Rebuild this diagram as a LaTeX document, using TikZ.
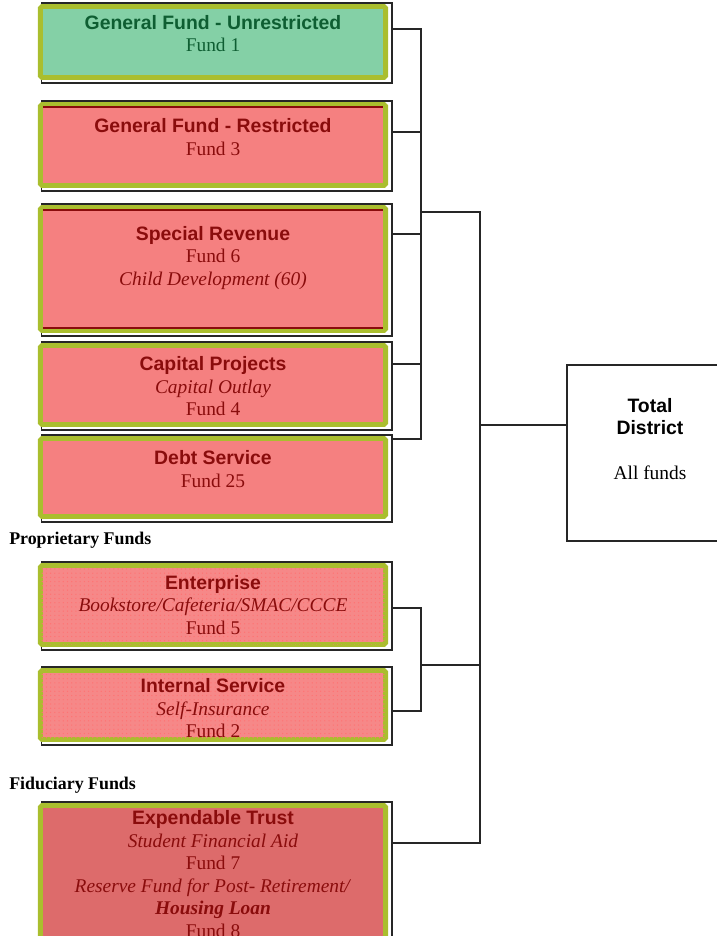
\documentclass[tikz,border=0pt]{standalone}
\usepackage{fontspec}
\setmainfont{Liberation Serif}
\newfontfamily\hsans{Liberation Sans}
\usetikzlibrary{backgrounds,patterns}
\definecolor{olivebd}{HTML}{AABE2E}
\definecolor{greenfill}{HTML}{84D0A6}
\definecolor{greentxt}{HTML}{0E5E32}
\definecolor{redfill}{HTML}{F58080}
\definecolor{redfilltwo}{HTML}{F68888}
\definecolor{trustfill}{HTML}{DD6B6B}
\definecolor{redtxt}{HTML}{8A0C0C}
\newcommand{\fhead}[1]{{\hsans\bfseries #1}}
\tikzstyle{fundbox}=[rectangle,draw=olivebd,line width=3.5pt,rounded corners=1.2pt,fill=redfill,minimum width=8.625cm,outer xsep=4.6pt,outer ysep=0pt,inner sep=0pt]
\tikzstyle{dotted box}=[fill=redfilltwo,postaction={pattern=dots,pattern color=red!55!white}]
\tikzstyle{fundtext}=[align=center,text=redtxt,inner sep=0pt,font=\fontsize{13.8}{16}\selectfont]
\tikzstyle{frame}=[draw=black!85,line width=0.8pt]
\tikzstyle{conn}=[draw=black!85,line width=0.85pt]
\tikzstyle{seclabel}=[anchor=west,inner sep=0pt,font=\fontsize{12.7}{15}\selectfont\bfseries]

\begin{document}
\begin{tikzpicture}[x=0.025cm,y=0.025cm]
    \useasboundingbox (0,0) rectangle (717,-936);
    \clip (0,0) rectangle (717,-936);

    % Governmental funds
    \node[fundbox,fill=greenfill,minimum height=1.775cm] (gfu) at (213,-42) {};
    \node[fundbox,minimum height=2.025cm] (gfr) at (213,-145) {};
    \node[fundbox,minimum height=3.075cm] (spr) at (213,-269) {};
    \node[fundbox,minimum height=1.975cm] (cap) at (213,-385) {};
    \node[fundbox,minimum height=1.95cm] (dbt) at (213,-477.5) {};

    % Proprietary and fiduciary funds
    \node[fundbox,dotted box,minimum height=1.975cm] (ent) at (213,-605) {};
    \node[fundbox,dotted box,minimum height=1.725cm] (int) at (213,-705) {};
    \node[fundbox,fill=trustfill,minimum height=3.625cm] (exp) at (213,-878) {};

    % black frames behind the boxes
    \begin{scope}[on background layer]
    \foreach \name in {gfu,gfr,spr,cap,dbt,ent,int,exp}
        \draw[frame] ([shift={(7.5,3.5)}]\name.north west) rectangle ([shift={(0,-5.5)}]\name.south east);
    \end{scope}

    % thin dark red rules inside two boxes
    \draw[redtxt,line width=0.8pt] ([shift={(9,-2.5)}]gfr.north west) -- ([shift={(-9,-2.5)}]gfr.north east);
    \draw[redtxt,line width=0.8pt] ([shift={(9,-2.5)}]spr.north west) -- ([shift={(-9,-2.5)}]spr.north east);
    \draw[redtxt,line width=0.8pt] ([shift={(9,2.5)}]spr.south west) -- ([shift={(-9,2.5)}]spr.south east);

    % box texts
    \node[fundtext,text=greentxt] (gfut) at (213,-33.5) {\fhead{General Fund - Unrestricted}\\Fund 1};
    \node[fundtext] (gfrt) at (213,-137) {\fhead{General Fund - Restricted}\\Fund 3};
    \node[fundtext] (sprt) at (213,-258) {\fhead{Special Revenue}\\Fund 6\\\textit{Child Development (60)}};
    \node[fundtext] (capt) at (213,-386.5) {\fhead{Capital Projects}\\\textit{Capital Outlay}\\Fund 4};
    \node[fundtext] (dbtt) at (213,-469) {\fhead{Debt Service}\\Fund 25};
    \node[fundtext] (entt) at (213,-605) {\fhead{Enterprise}\\\textit{Bookstore/Cafeteria/SMAC/CCCE}\\Fund 5};
    \node[fundtext] (intt) at (213,-708.5) {\fhead{Internal Service}\\\textit{Self-Insurance}\\Fund 2};
    \node[fundtext] (expt) at (213,-874) {\fhead{Expendable Trust}\\\textit{Student Financial Aid}\\Fund 7\\\textit{Reserve Fund for Post- Retirement/}\\\textbf{\textit{Housing Loan}}\\Fund 8};

    \node[seclabel] (prop) at (9,-540) {Proprietary Funds};
    \node[seclabel] (fid) at (9,-785) {Fiduciary Funds};

    % Total district
    \node[draw=black!85,line width=0.85pt,minimum width=4.2cm,minimum height=4.4cm,inner sep=0pt] (tot) at (651,-453) {};
    \node[fundtext,text=black] (tott) at (650,-439) {\fhead{Total}\\\fhead{District}\\[16pt]All funds};

    % Connect the boxes
    \foreach \name/\y in {gfu/29,gfr/132,spr/234,cap/364,dbt/439,ent/608,int/711}
        \coordinate (j\name) at (421,-\y);
    \foreach \name in {gfr,spr,cap}
        \path[conn] (\name.east |- j\name) -- (j\name);
    \path[conn] (gfu.east |- jgfu) -- (jgfu) -- (jdbt) -- (dbt.east |- jdbt);
    \path[conn] (ent.east |- jent) -- (jent) -- (jint) -- (int.east |- jint);

    \coordinate (ga) at (421,-212);
    \coordinate (gb) at (480,-212);
    \coordinate (pa) at (421,-665);
    \coordinate (pb) at (480,-665);
    \coordinate (jtot) at (480,-425);
    \coordinate (jexp) at (480,-843);
    \path[conn] (ga) -- (gb) -- (jexp) -- (exp.east |- jexp);
    \path[conn] (pa) -- (pb);
    \path[conn] (jtot) -- (tot.west |- jtot);
\end{tikzpicture}
\end{document}
